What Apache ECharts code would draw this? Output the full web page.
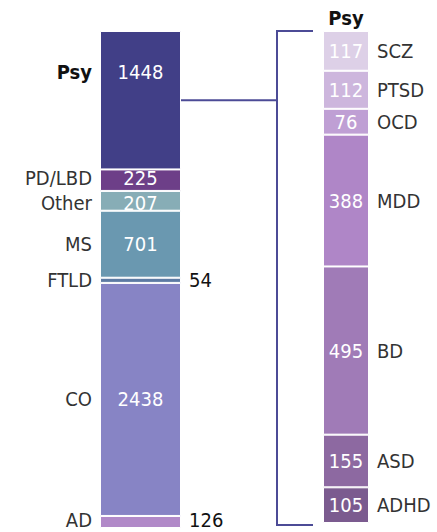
<!DOCTYPE html>
<html>
<head>
<meta charset="utf-8">
<script src="https://cdn.jsdelivr.net/npm/echarts@6/dist/echarts.min.js"></script>
<style>
html,body{margin:0;padding:0;background:#fff;}
#c{width:437px;height:532px;}
</style>
</head>
<body>
<div id="c"></div>
<script>
const leftNames = ['Psy', 'PD/LBD', 'Other', 'MS', 'FTLD', 'CO', 'AD'];
const leftValues = [1448, 225, 207, 701, 54, 2438, 126];
const leftColors = ['#413f87', '#6d3f88', '#87adb6', '#6a98b0', '#5d7aa3', '#8784c5', '#b189c8'];
const leftOutside = ['FTLD', 'AD'];

const rightNames = ['SCZ', 'PTSD', 'OCD', 'MDD', 'BD', 'ASD', 'ADHD'];
const rightValues = [117, 112, 76, 388, 495, 155, 105];
const rightColors = ['#ddd0e7', '#cdb6dd', '#bf9fd4', '#af86c7', '#a07bb7', '#8d69a1', '#7b5b8f'];
const detailTitle = 'Psy';

const FONT = "'DejaVu Sans Condensed', 'DejaVu Sans', sans-serif";
const FS = 20;
const LH = 16;
const leftTotal = leftValues.reduce((a, b) => a + b, 0);
const rightTotal = rightValues.reduce((a, b) => a + b, 0);
// small vertical nudges so neighbouring labels do not collide
const leftNudge = {'Psy': -28, 'PD/LBD': -2, 'Other': 2, 'AD': -2};

const chart = echarts.init(document.getElementById('c'), null, {renderer: 'svg'});

const series = [];
leftNames.forEach((n, i) => {
  const outside = leftOutside.includes(n);
  const isPsy = n === detailTitle;
  const off = [0, leftNudge[n] || 0];
  series.push({
    type: 'bar', name: n, xAxisIndex: 0, yAxisIndex: 0, stack: 'L',
    data: [leftValues[i]], barWidth: 81, barGap: '-100%',
    itemStyle: {color: leftColors[i], borderColor: '#fff', borderWidth: 1},
    label: {
      show: true, position: outside ? 'right' : 'inside', distance: 8,
      offset: off, lineHeight: LH,
      formatter: String(leftValues[i]), fontFamily: FONT, fontSize: FS,
      color: outside ? '#111' : '#fff'
    },
    silent: true
  });
  series.push({
    type: 'bar', name: n + '_name', xAxisIndex: 0, yAxisIndex: 0, stack: 'Lg',
    data: [leftValues[i]], barWidth: 81, barGap: '-100%',
    itemStyle: {color: 'rgba(0,0,0,0)'},
    label: {
      show: true, position: 'left', distance: 8,
      offset: off, lineHeight: LH,
      formatter: n, fontFamily: FONT, fontSize: FS,
      fontWeight: isPsy ? 'bold' : 'normal',
      color: isPsy ? '#111' : '#333'
    },
    silent: true
  });
});
rightNames.forEach((n, i) => {
  series.push({
    type: 'bar', name: n, xAxisIndex: 1, yAxisIndex: 1, stack: 'R',
    data: [rightValues[i]], barWidth: 46, barGap: '-100%',
    itemStyle: {color: rightColors[i], borderColor: '#fff', borderWidth: 1},
    label: {
      show: true, position: 'inside', lineHeight: LH,
      formatter: String(rightValues[i]), fontFamily: FONT, fontSize: FS, color: '#fff'
    },
    silent: true
  });
  series.push({
    type: 'bar', name: n + '_name', xAxisIndex: 1, yAxisIndex: 1, stack: 'Rg',
    data: [rightValues[i]], barWidth: 46, barGap: '-100%',
    itemStyle: {color: 'rgba(0,0,0,0)'},
    label: {
      show: true, position: 'right', distance: 8, lineHeight: LH,
      formatter: n, fontFamily: FONT, fontSize: FS, color: '#333'
    },
    silent: true
  });
});

const option = {
  animation: false,
  backgroundColor: '#fff',
  grid: [
    {left: 100, width: 81, top: 31, height: 497},
    {left: 323, width: 46, top: 31, height: 492}
  ],
  xAxis: [
    {gridIndex: 0, type: 'category', data: [''], show: false},
    {gridIndex: 1, type: 'category', data: [detailTitle], position: 'top',
      axisLine: {show: false}, axisTick: {show: false},
      axisLabel: {fontFamily: FONT, fontSize: FS, fontWeight: 'bold', color: '#111', margin: 3}}
  ],
  yAxis: [
    {gridIndex: 0, type: 'value', min: 0, max: leftTotal, inverse: true, show: false},
    {gridIndex: 1, type: 'value', min: 0, max: rightTotal, inverse: true, show: false}
  ],
  series: series
};
chart.setOption(option);

// connector bracket, positioned from the axes
const psyIdx = leftNames.indexOf(detailTitle);
const psyStart = leftValues.slice(0, psyIdx).reduce((a, b) => a + b, 0);
const mid = chart.convertToPixel({gridIndex: 0}, [0, psyStart + leftValues[psyIdx] / 2]);
const topR = chart.convertToPixel({gridIndex: 1}, [0, 0]);
const botR = chart.convertToPixel({gridIndex: 1}, [0, rightTotal]);
const leftEdge = 181, bracketX = 277, bracketEnd = 313;
const lineColor = '#4c4b96';
chart.setOption({
  graphic: [
    {type: 'polyline', silent: true, shape: {points: [[leftEdge, mid[1]], [bracketX, mid[1]]]},
      style: {stroke: lineColor, lineWidth: 2, fill: null}},
    {type: 'polyline', silent: true,
      shape: {points: [[bracketEnd, topR[1]], [bracketX, topR[1]], [bracketX, botR[1] + 2], [bracketEnd, botR[1] + 2]]},
      style: {stroke: lineColor, lineWidth: 2, fill: null}}
  ]
});
</script>
</body>
</html>
